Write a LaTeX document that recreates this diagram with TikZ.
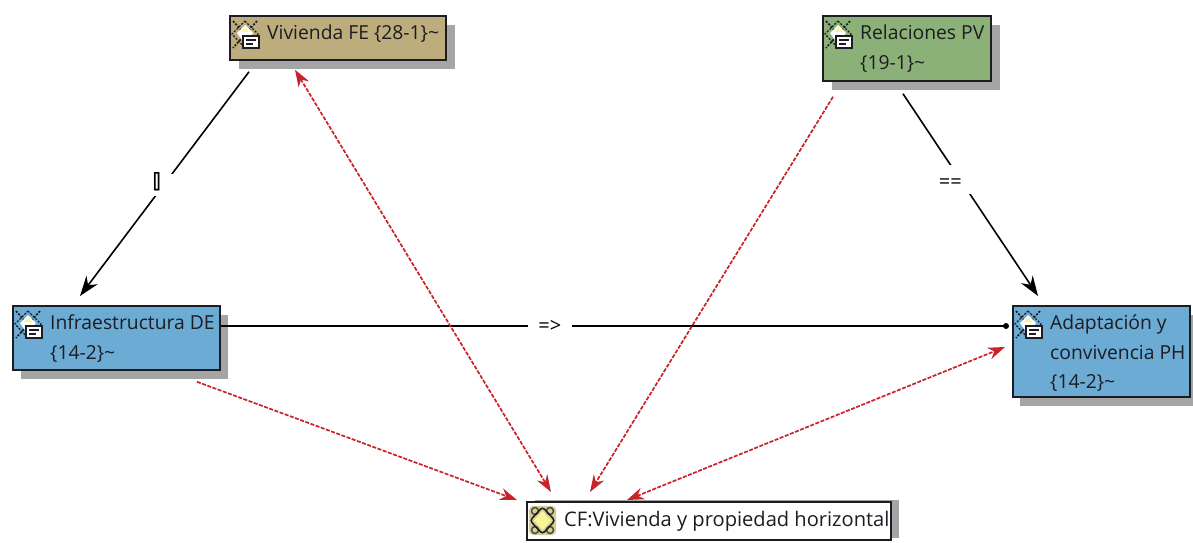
\documentclass[tikz,border=0pt]{standalone}
\usepackage{fontspec}
\setmainfont{Open Sans}
\usetikzlibrary{arrows.meta,calc}
\definecolor{tanfill}{RGB}{190,173,124}
\definecolor{greenfill}{RGB}{139,177,121}
\definecolor{bluefill}{RGB}{107,171,212}
\definecolor{shadowgray}{RGB}{165,165,165}
\definecolor{inkdark}{RGB}{28,28,34}
\definecolor{redline}{RGB}{200,35,40}
\definecolor{palegold}{RGB}{214,208,140}
\definecolor{brightgold}{RGB}{250,245,150}
\tikzset{
  x=1pt,y=-1pt,
  boxnode/.style={draw=inkdark,line width=1.8pt,inner sep=0pt,anchor=north west},
  boxtext/.style={anchor=north west,inner sep=0pt,align=left,text=inkdark,font=\fontsize{19.3}{29.5}\selectfont},
  shadowbox/.style={fill=shadowgray,draw=none},
  blackarrow/.style={draw=black,line width=1.6pt,-{Stealth[length=20pt,width=14pt]}},
  redarrow/.style={draw=redline,line width=1.7pt,dash pattern=on 4pt off 1.5pt},
  redhead/.style={-{Stealth[length=17pt,width=12pt,color=redline]}},
  redboth/.style={{Stealth[length=17pt,width=12pt,color=redline]}-{Stealth[length=17pt,width=12pt,color=redline]}},
  gapnode/.style={fill=white,inner sep=0pt,minimum width=#1},
  edgelabel/.style={inner sep=0pt,text=black,font=\fontsize{20}{20}\selectfont},
  codeicon/.pic={
    \draw[inkdark,line width=1.7pt,dash pattern=on 2pt off 1.5pt] (1,0)--(25,27) (25,0)--(1,27);
    \draw[inkdark,line width=1.3pt,dash pattern=on 2pt off 1.5pt] (13,0)--(26,13)--(13,27)--(0,13)--cycle;
    \fill[white] (13,4)--(21,12)--(13,23)--(5,12)--cycle;
    \fill[brightgold] (13,6)--(17,11)--(9,11)--cycle;
    \fill[white,draw=inkdark,line width=1.4pt] (11,15) rectangle (27,27);
    \draw[inkdark,line width=1.3pt] (14,19)--(24,19) (14,23)--(21,23);
  },
  cficon/.pic={
    \fill[rounded corners=4pt,fill=palegold] (0,0) rectangle (27,29);
    \draw[inkdark!80!white,line width=1.5pt] (6,5) circle (3.5pt) (21,5) circle (3.5pt) (6,24) circle (3.5pt) (21,24) circle (3.5pt);
    \draw[inkdark,line width=1.5pt,rounded corners=3pt] (13.5,1)--(26,14.5)--(13.5,28)--(1,14.5)--cycle;
    \fill[brightgold] (13.5,5)--(22,14.5)--(13.5,24)--(5,14.5)--cycle;
  },
}
\newcommand{\mybox}[9]{%
  % name, x1, y1, x2, y2, fill, shadow dx, shadow dy, text
  \fill[shadowbox] (#2+#7,#3+#8) rectangle (#4+#7,#5+#8);
  \pgfmathsetmacro{\bw}{#4-#2}\pgfmathsetmacro{\bh}{#5-#3}
  \node[boxnode,fill=#6,minimum width=\bw pt,minimum height=\bh pt] (#1) at (#2,#3) {};
  \node[boxtext] (#1-t) at (#2+38,#3+10) {#9};
}
\begin{document}
\begin{tikzpicture}
\useasboundingbox (0,0) rectangle (1193,543);
\fill[white] (0,0) rectangle (1193,543);
\mybox{viv}{229}{15}{445}{59}{tanfill}{10}{10}{Vivienda FE \{28-1\}\textasciitilde}
\mybox{rel}{822}{15}{990}{80}{greenfill}{10}{10}{Relaciones PV\\\{19-1\}\textasciitilde}
\mybox{inf}{12}{305}{219}{369}{bluefill}{9}{10}{Infraestructura DE\\\{14-2\}\textasciitilde}
\mybox{ada}{1012}{305}{1189}{396}{bluefill}{8}{10}{Adaptación y\\convivencia PH\\\{14-2\}\textasciitilde}
\mybox{cf}{526}{501}{890}{539}{white}{9}{-1}{\fontsize{20.1}{29}\selectfont CF:Vivienda y propiedad horizontal}
\pic at (232,21) {codeicon};
\pic at (825,21) {codeicon};
\pic at (15,311) {codeicon};
\pic at (1015,311) {codeicon};
\pic at (529,506) {cficon};
% black connectors
\draw[blackarrow] ([shift={(20,11)}]viv.south west) -- node[pos=.504,gapnode=22pt,minimum height=22pt] (g1) {} ([shift={(68,-9)}]inf.north west);
\node[edgelabel,font=\fontsize{21}{21}\selectfont] (l1) at ([shift={(-7,-3)}]g1.center) {[\kern-5pt]};
\draw[blackarrow] ([shift={(81,12)}]rel.south west) -- node[pos=.424,gapnode=30pt,minimum height=29pt] (g2) {} ([shift={(26,-9)}]ada.north west);
\node[edgelabel] (l2) at ([shift={(-10,4)}]g2.center) {==};
\draw[draw=black,line width=1.6pt] ([shift={(0,21)}]inf.north east) -- node[pos=.419,gapnode=44pt,minimum height=12pt] (g3) {} ([shift={(-6,21)}]ada.north west);
\node[edgelabel] (l3) at (g3.center) {=>};
\fill[black] ([shift={(-6,21)}]ada.north west) circle (3pt);
% red connectors
\draw[redarrow,redboth] ([shift={(66,9)}]viv.south west) -- ([shift={(25,-9)}]cf.north west);
\draw[redarrow,redhead] ([shift={(11,15)}]rel.south west) -- ([shift={(64,-9)}]cf.north west);
\draw[redarrow,redhead] ([shift={(185,11)}]inf.south west) -- ([shift={(-9,-1)}]cf.north west);
\draw[redarrow,redboth] ([shift={(101,-1)}]cf.north west) -- ([shift={(-7,42)}]ada.north west);
\end{tikzpicture}
\end{document}
